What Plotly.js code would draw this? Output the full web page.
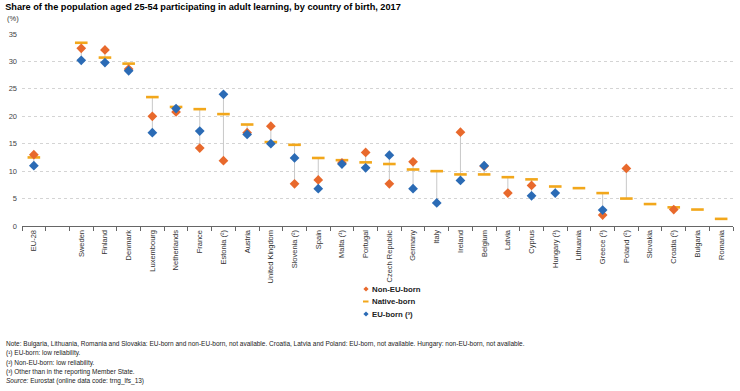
<!DOCTYPE html>
<html>
<head>
<meta charset="utf-8">
<script src="https://cdn.plot.ly/plotly-3.0.1.min.js"></script>
<style>html,body{margin:0;padding:0;background:#fff}#chart{width:740px;height:391px}</style>
</head>
<body>
<div id="chart"></div>
<script>
const countries = ["EU-28"," ","Sweden","Finland","Denmark","Luxembourg","Netherlands","France","Estonia (²)","Austria","United Kingdom","Slovenia (²)","Spain","Malta (¹)","Portugal","Czech Republic","Germany","Italy","Ireland","Belgium","Latvia","Cyprus","Hungary (¹)","Lithuania","Greece (¹)","Poland (²)","Slovakia","Croatia (²)","Bulgaria","Romania"];
const nonEU  = [13.0,null,32.4,32.1,28.6,20.0,20.8,14.2,11.9,17.0,18.2,7.7,8.4,11.5,13.4,7.7,11.7,null,17.1,10.9,6.0,7.4,null,null,2.0,10.5,null,3.0,null,null];
const native = [12.5,null,33.4,30.7,29.6,23.5,21.7,21.3,20.4,18.5,15.3,14.8,12.4,12.0,11.6,11.3,10.3,10.0,9.4,9.4,8.9,8.5,7.2,6.9,6.0,5.0,4.0,3.4,3.0,1.3];
const euBorn = [11.0,null,30.2,29.8,28.3,17.0,21.4,17.3,24.0,16.7,15.0,12.4,6.8,11.3,10.6,12.9,6.8,4.2,8.3,11.0,null,5.5,6.0,null,2.9,null,null,null,null,null];
const yTicks = [0,5,10,15,20,25,30,35];
const seriesNames = ["Non-EU-born", "Native-born", "EU-born (³)"];
const noteLines = [
  "Note: Bulgaria, Lithuania, Romania and Slovakia: EU-born and non-EU-born, not available. Croatia, Latvia and Poland: EU-born, not available. Hungary: non-EU-born, not available.",
  "(¹) EU-born: low reliability.",
  "(²) Non-EU-born: low reliability.",
  "(³) Other than in the reporting Member State.",
  "<i>Source:</i> Eurostat (online data code: trng_lfs_13)"
];

const C_NONEU = '#E8692C', C_NATIVE = '#F2A71B', C_EU = '#2B6BB5';

// connector segments between min and max of each country
const segX = [], segY = [];
countries.forEach((c, i) => {
  const vals = [nonEU[i], native[i], euBorn[i]].filter(v => v !== null);
  if (vals.length > 1) {
    segX.push(c, c, null);
    segY.push(Math.min(...vals), Math.max(...vals), null);
  }
});

const FONT = "Arial, 'Liberation Sans', sans-serif";
const traces = [
  {x: segX, y: segY, type: 'scatter', mode: 'lines', line: {color: '#c8c8c8', width: 1},
   showlegend: false, hoverinfo: 'skip'},
  {x: countries, y: native, name: seriesNames[1], type: 'scatter', mode: 'markers',
   marker: {symbol: 'line-ew', size: 9, color: C_NATIVE, line: {color: C_NATIVE, width: 2.6}}},
  {x: countries, y: nonEU, name: seriesNames[0], type: 'scatter', mode: 'markers',
   marker: {symbol: 'diamond', size: 7.5, color: C_NONEU}},
  {x: countries, y: euBorn, name: seriesNames[2], type: 'scatter', mode: 'markers',
   marker: {symbol: 'diamond', size: 7.5, color: C_EU}}
];

// plot area geometry (pixels) for placing legend / notes
const W = 740, H = 391, mL = 22, mR = 7, mT = 34, mB = 165;
const pw = W - mL - mR, ph = H - mT - mB;
const px = x => (x - mL) / pw;
const py = y => (H - mB - y) / ph;

const annotations = [
  {text: '(%)', xref: 'paper', yref: 'paper', x: px(5), y: py(18.5), xanchor: 'left', yanchor: 'middle',
   showarrow: false, font: {family: FONT, size: 7.5, color: '#333'}}
];
noteLines.forEach((t, i) => {
  annotations.push({text: t, xref: 'paper', yref: 'paper', x: px(4), y: py(344 + i * 9.3),
    xanchor: 'left', yanchor: 'middle', align: 'left', showarrow: false,
    font: {family: FONT, size: 6.5, color: '#222'}});
});

// manual legend
const legY = [289, 301.5, 314];
const legColors = [C_NONEU, C_NATIVE, C_EU];
const shapes = [];
seriesNames.forEach((n, i) => {
  annotations.push({text: '<b>' + n + '</b>', xref: 'paper', yref: 'paper', x: px(369.5), y: py(legY[i]),
    xanchor: 'left', yanchor: 'middle', showarrow: false, font: {family: FONT, size: 7.8, color: '#222'}});
  if (i === 1) {
    shapes.push({type: 'line', xref: 'paper', yref: 'paper', x0: px(363), x1: px(368.5), y0: py(legY[i]), y1: py(legY[i]),
      line: {color: legColors[i], width: 2}});
  } else {
    shapes.push({type: 'path', xref: 'paper', yref: 'paper', xsizemode: 'pixel', ysizemode: 'pixel',
      xanchor: px(366), yanchor: py(legY[i]), path: 'M -2.6 0 L 0 2.6 L 2.6 0 L 0 -2.6 Z',
      fillcolor: legColors[i], line: {width: 0}});
  }
});

const layout = {
  width: W, height: H,
  margin: {l: mL, r: mR, t: mT, b: mB},
  paper_bgcolor: '#fff', plot_bgcolor: '#fff',
  font: {family: FONT, size: 8, color: '#333'},
  title: {text: '<b>Share of the population aged 25-54 participating in adult learning, by country of birth, 2017</b>',
    x: 0.007, xanchor: 'left', y: 0.99, yanchor: 'top', font: {family: FONT, size: 9.2, color: '#000'}},
  xaxis: {type: 'category', categoryorder: 'array', categoryarray: countries,
    tickangle: -90, tickfont: {family: FONT, size: 7.5, color: '#333'},
    showline: true, linecolor: '#666', linewidth: 1, ticks: 'outside', tickson: 'boundaries',
    ticklen: 4, tickcolor: '#666', showgrid: false, range: [-0.5, countries.length - 0.5], fixedrange: true},
  yaxis: {range: [0, 35], tickvals: yTicks, ticktext: yTicks.map(String),
    tickfont: {family: FONT, size: 7.5, color: '#444'}, showgrid: true, gridcolor: '#d4d4d4',
    griddash: 'dot', gridwidth: 1, zeroline: false, showline: false, ticks: '', ticklabelstandoff: 4, fixedrange: true},
  showlegend: false,
  annotations: annotations,
  shapes: shapes
};

Plotly.newPlot('chart', traces, layout, {displayModeBar: false, staticPlot: true});
</script>
</body>
</html>
